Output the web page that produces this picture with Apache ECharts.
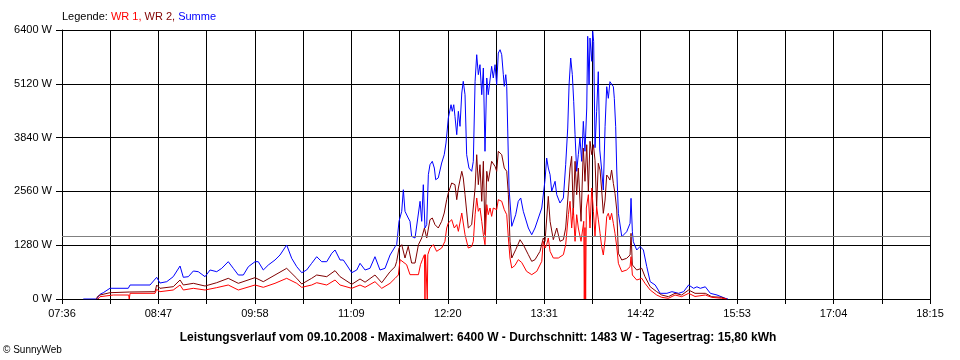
<!DOCTYPE html>
<html>
<head>
<meta charset="utf-8">
<script src="https://cdn.jsdelivr.net/npm/echarts@6/dist/echarts.min.js"></script>
<style>
html,body{margin:0;padding:0;background:#fff;}
#c{width:960px;height:360px;}
</style>
</head>
<body>
<div id="c"></div>
<script>
// x values: minutes after the first axis tick (07:36)
const startClock = '07:36';
const xTickLabels = ['07:36','08:47','09:58','11:09','12:20','13:31','14:42','15:53','17:04','18:15'];
const yTicks = [0, 1280, 2560, 3840, 5120, 6400];
const averageW = 1483;
const titleText = 'Leistungsverlauf vom 09.10.2008 - Maximalwert: 6400 W - Durchschnitt: 1483 W - Tagesertrag: 15,80 kWh';

const summe = [
[15.7,0],[25.5,0],[28.0,112],[30.4,150],[35.3,255],[48.8,255],[50.1,333],[64.8,333],[66.0,373],[69.7,516],
[72.1,380],[77.1,412],[81.9,531],[86.9,785],[89.3,516],[93.0,531],[96.7,666],[100.3,650],[105.3,531],[109.0,690],
[113.9,650],[117.6,730],[122.4,888],[126.1,730],[129.8,571],[133.5,571],[137.2,769],[142.1,888],[144.5,888],[148.2,690],
[151.9,809],[156.8,928],[160.5,1047],[165.4,1285],[169.1,968],[172.8,769],[176.5,626],[180.1,690],[183.8,849],[187.5,1006],
[191.2,888],[194.9,888],[198.6,1087],[201.0,1166],[204.7,928],[207.1,928],[209.6,809],[213.3,626],[217.0,690],[219.4,849],
[223.1,690],[226.7,730],[230.4,1006],[234.1,690],[237.8,730],[241.5,1047],[245.2,1244],[246.4,1292],[248.1,1848],[250.1,2086],
[251.3,2600],[252.5,2086],[254.9,1927],[256.2,1848],[257.4,1491],[259.9,1451],[261.1,1491],[263.6,2324],[264.8,1848],[266.0,2719],
[267.2,1689],[268.5,1770],[269.7,2957],[270.9,3195],[272.6,3276],[274.1,3116],[275.1,2838],[277.0,2880],[279.5,3235],[281.4,3433],
[282.7,3711],[283.4,3949],[284.4,4306],[286.4,4622],[287.3,4465],[288.4,4622],[289.3,4346],[290.6,3909],[291.8,4465],[293.0,4108],
[294.3,4901],[295.4,5179],[296.7,4860],[297.9,3433],[299.6,3116],[301.6,3038],[302.8,3276],[304.1,5179],[305.3,5812],[306.5,5337],
[307.7,5575],[309.0,4860],[310.2,5496],[311.4,3514],[312.7,5258],[313.8,4860],[316.3,5536],[317.5,5258],[318.8,5575],[320.0,5099],
[321.2,5852],[322.5,5931],[323.7,5812],[324.9,5337],[325.6,5060],[326.7,5337],[327.4,5060],[328.1,4068],[329.1,2641],[331.1,1729],
[332.3,1689],[334.0,2006],[335.9,2324],[337.7,2403],[339.6,2086],[343.3,1689],[345.8,1530],[348.2,1689],[350.7,1927],[353.2,2165],
[355.6,2838],[356.8,3354],[358.0,3116],[359.3,2957],[360.5,2562],[363.0,2800],[364.2,2482],[366.6,2284],[369.1,2403],[370.8,3195],
[372.3,4068],[373.3,5099],[374.5,5733],[375.7,5337],[376.7,4703],[377.7,3909],[378.9,3038],[380.1,3433],[381.3,3830],[382.6,3275],
[383.8,4227],[385.0,3514],[386.3,4544],[387.0,6250],[388.0,5099],[388.7,6210],[390.0,5655],[390.7,6369],[391.4,6130],[392.4,3600],
[393.6,4465],[394.8,5408],[395.9,3545],[397.3,3069],[398.5,2593],[399.8,4099],[401.0,5051],[402.2,4775],[403.4,5170],[404.6,5170],
[405.9,5051],[406.6,4775],[407.6,4099],[408.4,3069],[409.6,2039],[412.1,1482],[415.7,1600],[418.2,1800],[418.9,2395],[419.9,1600],
[420.6,1363],[423.1,1166],[425.6,1250],[428.0,1166],[430.5,769],[433.0,412],[436.7,333],[440.4,135],[445.3,135],[449.0,174],
[453.9,135],[457.6,174],[461.3,333],[465.0,254],[467.4,290],[469.9,254],[473.6,290],[477.3,135],[482.2,95],[488.3,16],[490.3,0]
];

const wr2 = [
[25.5,0],[26.0,55],[28.0,95],[35.3,150],[49.5,166],[68.5,174],[69.7,333],[72.1,254],[81.9,293],[86.9,452],
[89.3,333],[96.7,373],[105.3,309],[113.9,388],[122.4,492],[129.8,373],[142.1,508],[148.2,412],[156.8,571],[165.4,730],
[172.8,492],[176.5,357],[183.8,492],[187.5,571],[194.9,531],[201.0,674],[204.7,531],[213.3,349],[219.4,476],[223.1,400],
[230.4,571],[235.4,388],[241.5,650],[245.2,769],[246.4,896],[248.1,1213],[250.1,1292],[252.5,975],[254.9,1253],[257.4,856],
[259.9,856],[262.4,1292],[264.8,1451],[266.8,1689],[268.5,1451],[270.9,1887],[272.6,1927],[274.6,1768],[277.0,1689],[279.5,1848],
[281.4,2046],[283.2,2363],[284.4,2522],[286.9,2760],[289.3,2720],[290.6,2363],[291.8,2640],[294.3,3038],[295.4,2880],[296.7,2482],
[299.1,1689],[301.6,1768],[304.1,2641],[305.3,3433],[306.5,2720],[307.7,3195],[309.0,2324],[310.2,3276],[311.4,1530],[312.7,3038],
[313.8,2800],[316.3,3276],[318.8,3155],[320.0,3038],[321.2,3514],[323.7,3434],[325.6,3116],[327.4,3038],[328.6,2482],[329.8,1372],
[331.1,975],[334.0,1173],[337.2,1411],[339.6,1292],[343.3,1054],[345.8,896],[348.2,935],[351.9,1134],[354.3,1451],[355.6,1372],
[358.0,2443],[359.3,1848],[361.7,1411],[364.2,1689],[366.6,1372],[369.1,1411],[370.8,1689],[372.8,2562],[374.0,3116],[375.2,3394],
[376.4,2006],[377.7,3276],[378.9,2482],[380.1,3116],[382.1,1848],[383.8,3592],[385.0,2800],[386.3,3671],[387.5,2562],[388.7,3752],
[390.0,3434],[391.2,3671],[392.4,3300],[393.6,2200],[394.8,3228],[396.1,3069],[397.3,2593],[398.5,2039],[399.8,2355],[401.0,2950],
[402.2,2900],[403.4,2830],[404.6,3069],[405.9,2750],[407.1,2514],[408.4,2117],[409.6,1087],[412.1,928],[415.7,968],[418.2,1047],
[418.9,1563],[419.9,809],[423.1,690],[426.8,730],[429.2,531],[433.0,293],[437.8,174],[441.5,95],[446.4,55],[451.3,135],
[456.2,95],[461.3,214],[466.0,135],[473.6,135],[478.3,55],[485.7,40],[489.3,0]
];

const wr1 = [
[26.5,0],[28.0,55],[37.8,95],[49.1,95],[49.5,0],[50.1,135],[68.5,135],[69.7,230],[72.1,174],[81.9,214],
[86.9,333],[89.3,214],[96.7,254],[105.3,214],[113.9,270],[122.4,333],[129.8,214],[142.1,333],[148.2,278],[156.8,373],
[165.4,492],[172.8,373],[176.5,278],[183.8,333],[187.5,388],[194.9,333],[201.0,452],[204.7,333],[213.3,254],[219.4,333],
[223.1,278],[230.4,412],[235.4,254],[241.5,373],[245.2,492],[247.6,571],[248.9,936],[250.1,928],[253.7,817],[256.2,579],
[259.9,579],[262.4,579],[263.9,817],[265.3,936],[266.8,1054],[267.2,0],[267.6,1054],[268.9,0],[269.3,1054],[270.9,1213],
[273.4,1292],[275.8,1134],[279.5,1213],[281.9,1372],[283.2,1689],[284.4,1808],[286.9,1887],[288.8,1689],[290.6,1770],[291.8,1610],
[294.3,2046],[295.4,1808],[296.7,1530],[299.1,1213],[301.6,1250],[302.8,1372],[304.1,2006],[305.3,2403],[306.5,2086],[307.7,2165],
[309.0,1848],[310.2,1530],[311.4,1292],[312.7,2245],[313.8,2006],[315.1,2165],[316.3,1966],[317.5,2165],[320.0,2125],[321.2,2363],
[323.7,2325],[325.6,2125],[327.4,2006],[328.6,1451],[329.8,975],[331.1,737],[333.5,800],[335.9,936],[338.4,870],[342.0,658],
[345.8,579],[349.5,658],[353.2,896],[354.3,1372],[355.6,1213],[356.8,1292],[358.0,1451],[359.3,1134],[361.7,975],[365.4,975],
[369.1,1054],[370.8,1292],[372.8,2006],[374.0,2324],[375.2,1689],[376.4,2165],[377.7,1372],[378.9,2006],[380.1,1689],[382.1,1372],
[384.1,1848],[384.5,0],[385.0,1700],[385.5,0],[386.0,2165],[387.5,2482],[388.7,1689],[390.0,2641],[391.2,2086],[392.4,1500],
[393.6,2200],[394.8,1900],[396.1,1563],[397.3,1244],[398.5,1047],[399.8,1404],[401.0,1958],[402.2,2039],[403.4,1880],[404.6,2039],
[405.9,1800],[407.1,1563],[408.4,1244],[409.6,849],[412.1,650],[415.7,690],[418.2,769],[418.9,1006],[419.9,571],[423.1,452],
[426.8,492],[429.2,373],[433.0,214],[437.8,95],[441.5,40],[446.4,16],[451.3,95],[456.2,55],[461.3,135],[466.0,60],
[473.6,95],[478.3,40],[485.7,16],[489.3,0]
];

const FONT = 'Liberation Sans';
const xInterval = 35.5;      // half of the 71 minute label step
const xMax = 639;            // 07:36 -> 18:15

const chart = echarts.init(document.getElementById('c'), null, {renderer: 'canvas'});
const lineSeries = (name, color, data, z) => ({
  name, type: 'line', data, showSymbol: false, symbol: 'none',
  lineStyle: {color, width: 1}, itemStyle: {color}, z, animation: false, silent: true
});
const rs = (color) => ({color, fontFamily: FONT, fontSize: 11, fontWeight: 'normal'});

chart.setOption({
  animation: false,
  backgroundColor: '#fff',
  title: [
    {
      left: 62, top: 11, padding: 0,
      text: '{k|Legende: }{a|WR 1, }{b|WR 2, }{c|Summe}',
      textStyle: {
        fontWeight: 'normal', fontSize: 11, fontFamily: FONT,
        rich: {k: rs('#000'), a: rs('#ff0000'), b: rs('#800000'), c: rs('#0000ff')}
      }
    },
    {
      left: 478, top: 332, padding: 0, textAlign: 'center',
      text: titleText,
      textStyle: {color: '#000', fontFamily: FONT, fontSize: 12, fontWeight: 'bold'}
    },
    {
      left: 3, top: 345, padding: 0,
      text: '© SunnyWeb',
      textStyle: {color: '#000', fontFamily: FONT, fontSize: 10, fontWeight: 'normal'}
    }
  ],
  grid: {left: 62, right: 30, top: 30, bottom: 61, containLabel: false},
  xAxis: {
    type: 'value', min: 0, max: xMax, interval: xInterval,
    axisLine: {show: true, lineStyle: {color: '#000', width: 1}},
    axisTick: {show: true, length: 5, lineStyle: {color: '#000'}},
    splitLine: {show: true, lineStyle: {color: '#000', width: 1}},
    axisLabel: {
      show: true, margin: 9, color: '#000', fontFamily: FONT, fontSize: 11,
      showMinLabel: true, showMaxLabel: true,
      formatter: function (v) {
        const i = Math.round(v / xInterval);
        return i % 2 === 0 ? xTickLabels[i / 2] : '';
      }
    }
  },
  yAxis: {
    type: 'value', min: yTicks[0], max: yTicks[yTicks.length - 1], interval: yTicks[1] - yTicks[0],
    axisLine: {show: true, lineStyle: {color: '#000', width: 1}},
    axisTick: {show: true, length: 6, lineStyle: {color: '#000'}},
    splitLine: {show: true, lineStyle: {color: '#000', width: 1}},
    axisLabel: {color: '#000', fontFamily: FONT, fontSize: 11, margin: 10,
      formatter: function (v) { return String(v) + ' W'; },
      showMinLabel: true, showMaxLabel: true}
  },
  series: [
    Object.assign(lineSeries('Summe', '#0000ff', summe, 2), {
      markLine: {
        silent: true, symbol: ['none', 'none'], label: {show: false},
        lineStyle: {color: '#808080', width: 1, type: 'solid'},
        data: [{yAxis: averageW}], animation: false
      }
    }),
    lineSeries('WR 2', '#800000', wr2, 3),
    lineSeries('WR 1', '#ff0000', wr1, 4)
  ]
});
</script>
</body>
</html>
